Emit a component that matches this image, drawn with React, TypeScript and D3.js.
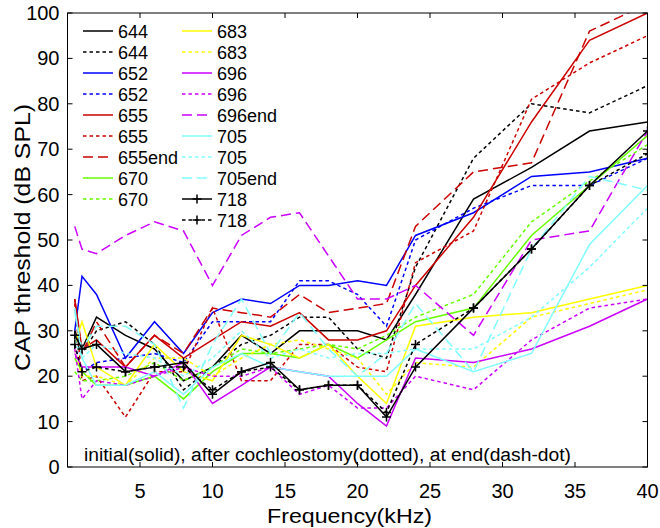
import React from "react";
import * as d3 from "d3";

// frequencies (kHz) shared by every curve
const freqs = [0.5, 1, 2, 4, 6, 8, 10, 12, 14, 16, 18, 20, 22, 24, 28, 32, 36, 40];

// CAP thresholds (dB SPL)
const s644 = [30, 26, 33, 29, 26, 19, 22, 29, 25, 30, 30, 30, 28, 38, 59, 66, 74, 76];
const s644c = [28, 25, 30, 32, 27, 17, 22, 27, 29, 33, 33, 26, 24, 44, 68, 80, 78, 84];
const s652 = [30, 42, 38, 24, 32, 25, 34, 37, 36, 40, 40, 41, 40, 51, 56, 64, 65, 68];
const s652c = [27, 21, 23, 24, 25, 23, 32, 32, 32, 41, 41, 38, 31, 50, 57, 62, 62, 68];
const s655 = [37, 26, 28, 22, 29, 24, 28, 32, 31, 34, 28, 28, 30, 40, 55, 76, 94, 100];
const s655c = [36, 19, 20, 11, 21, 21, 35, 19, 19, 27, 27, 22, 21, 45, 52, 81, 89, 95];
const s655e = [37, 25, 32, 22, 29, 25, 35, 34, 33, 38, 34, 35, 36, 53, 65, 67, 96, 102];
const s670 = [24, 21, 18, 18, 20, 15, 21, 25, 25, 24, 27, 24, 28, 32, 35, 51, 62, 73];
const s670c = [21, 19, 19, 20, 23, 19, 22, 26, 25, 26, 27, 26, 29, 33, 38, 54, 63, 71];
const s683 = [27, 32, 22, 18, 27, 21, 19, 29, 27, 24, 27, 20, 14, 31, 33, 34, 37, 40];
const s683c = [26, 20, 20, 18, 24, 24, 20, 24, 27, 28, 26, 24, 16, 23, 22, 33, 36, 39];
const s696 = [25, 22, 22, 22, 20, 23, 14, 18, 22, 21, 20, 14, 9, 24, 23, 26, 31, 37];
const s696c = [26, 15, 19, 18, 20, 22, 20, 20, 22, 16, 18, 13, 13, 20, 17, 28, 35, 37];
const s696e = [53, 48, 47, 51, 54, 52, 40, 51, 55, 56, null, 37, 37, 40, 29, 50, 52, 74];
const s705 = [35, 24, 18, 18, 21, 16, 22, 25, 22, 21, 20, 20, 20, 26, 21, 25, 49, 62];
const s705c = [28, 24, 27, 25, 24, 20, 24, 30, 24, 26, 24, 25, 25, 26, 26, 33, 44, 57];
const s705e = [34, 26, 31, 31, 27, 13, 27, 37, 25, 34, 26, 20, 25, 36, 21, 48, 64, 61];
const s718 = [29, 26, 27, 21, 22, 23, 16, 21, 23, 17, 18, 18, 11, 22, 35, 48, 62, 74];
const s718c = [27, 21, 22, 21, 22, 22, 17, 21, 22, 17, 18, 18, 12, 27, 35, 48, 62, 69];

const labels = ["644", "644", "652", "652", "655", "655", "655end", "670", "670",
  "683", "683", "696", "696", "696end", "705", "705", "705end", "718", "718"];
const yTicks = [0, 10, 20, 30, 40, 50, 60, 70, 80, 90, 100];
const xTicks = [5, 10, 15, 20, 25, 30, 35, 40];

const BLACK = "#000000", BLUE = "#0000ff", RED = "#cc0000", GREEN = "#66ff00",
  YELLOW = "#ffff00", MAGENTA = "#cc00ff", CYAN = "#80ffff";
const SOLID = "none", DOT = "3.5,3", DASH = "10,5";

const series = [
  { vals: s644, color: BLACK, dash: SOLID },
  { vals: s644c, color: BLACK, dash: DOT },
  { vals: s652, color: BLUE, dash: SOLID },
  { vals: s652c, color: BLUE, dash: DOT },
  { vals: s655, color: RED, dash: SOLID },
  { vals: s655c, color: RED, dash: DOT },
  { vals: s655e, color: RED, dash: DASH },
  { vals: s670, color: GREEN, dash: SOLID },
  { vals: s670c, color: GREEN, dash: DOT },
  { vals: s683, color: YELLOW, dash: SOLID },
  { vals: s683c, color: YELLOW, dash: DOT },
  { vals: s696, color: MAGENTA, dash: SOLID },
  { vals: s696c, color: MAGENTA, dash: DOT },
  { vals: s696e, color: MAGENTA, dash: DASH },
  { vals: s705, color: CYAN, dash: SOLID },
  { vals: s705c, color: CYAN, dash: DOT },
  { vals: s705e, color: CYAN, dash: DASH },
  { vals: s718, color: BLACK, dash: SOLID, marker: true },
  { vals: s718c, color: BLACK, dash: DOT, marker: true },
].map((s, i) => ({ ...s, label: labels[i] }));

const W = 660, H = 528;
const left = 67.5, right = 647.5, top = 13, bottom = 467;
const font = "'Liberation Sans', Arial, sans-serif";

export default function App() {
  const x = d3.scaleLinear().domain([0, 40]).range([left, right]);
  const y = d3.scaleLinear().domain([0, 100]).range([bottom, top]);
  const line = d3.line<[number, number]>().x(d => x(d[0])).y(d => y(d[1]));
  const pts = (vals: (number | null)[]) =>
    freqs.map((f, i) => [f, vals[i]] as [number, number | null])
      .filter(p => p[1] !== null) as [number, number][];
  const tick = 5;

  return (
    <svg width={W} height={H} style={{ position: "absolute", left: 0, top: 0, background: "#fff" }}
      fontFamily={font}>
      <defs>
        <clipPath id="plot"><rect x={left} y={top} width={right - left} height={bottom - top} /></clipPath>
      </defs>
      <rect x={0} y={0} width={W} height={H} fill="#fff" />
      <g clipPath="url(#plot)">
        {series.map((s, i) => (
          <g key={i}>
            <path d={line(pts(s.vals)) || ""} fill="none" stroke={s.color} strokeWidth={1.5}
              strokeDasharray={s.dash} strokeLinejoin="miter" />
            {s.marker && pts(s.vals).map((p, j) => (
              <path key={j} d={`M${x(p[0]) - 4.5},${y(p[1])}h9M${x(p[0])},${y(p[1]) - 4.5}v9`}
                stroke={s.color} strokeWidth={1.5} />
            ))}
          </g>
        ))}
      </g>
      {/* axes box and ticks */}
      <rect x={left} y={top} width={right - left} height={bottom - top} fill="none" stroke="#000" strokeWidth={1} />
      {yTicks.map(t => (
        <g key={t}>
          <line x1={left} x2={left + tick} y1={y(t)} y2={y(t)} stroke="#000" />
          <line x1={right} x2={right - tick} y1={y(t)} y2={y(t)} stroke="#000" />
          <text x={left - 8} y={y(t) + 7} textAnchor="end" fontSize={20}>{t}</text>
        </g>
      ))}
      {xTicks.map(t => (
        <g key={t}>
          <line x1={x(t)} x2={x(t)} y1={bottom} y2={bottom - tick} stroke="#000" />
          <line x1={x(t)} x2={x(t)} y1={top} y2={top + tick} stroke="#000" />
          <text x={x(t)} y={498} textAnchor="middle" fontSize={20}>{t}</text>
        </g>
      ))}
      <text x={267} y={523} fontSize={21} textLength={165} lengthAdjust="spacingAndGlyphs">Frequency(kHz)</text>
      <text transform={`translate(30,371) rotate(-90)`} fontSize={22} textLength={267}
        lengthAdjust="spacingAndGlyphs">
        CAP threshold (dB SPL)
      </text>
      <text x={84} y={461} fontSize={18} textLength={487} lengthAdjust="spacingAndGlyphs">
        initial(solid), after cochleostomy(dotted), at end(dash-dot)
      </text>
      {/* legend */}
      {series.map((s, i) => {
        const col = i < 9 ? 0 : 1;
        const row = col === 0 ? i : i - 9;
        const lx = col === 0 ? 83 : 182;
        const ly = 31 + row * 21;
        return (
          <g key={"lg" + i}>
            <line x1={lx} x2={lx + 30} y1={ly} y2={ly} stroke={s.color} strokeWidth={1.5}
              strokeDasharray={s.dash} />
            {s.marker && <path d={`M${lx + 15 - 4.5},${ly}h9M${lx + 15},${ly - 4.5}v9`} stroke={s.color} strokeWidth={1.5} />}
            <text x={lx + 35} y={ly + 6.5} fontSize={18}>{s.label}</text>
          </g>
        );
      })}
    </svg>
  );
}
